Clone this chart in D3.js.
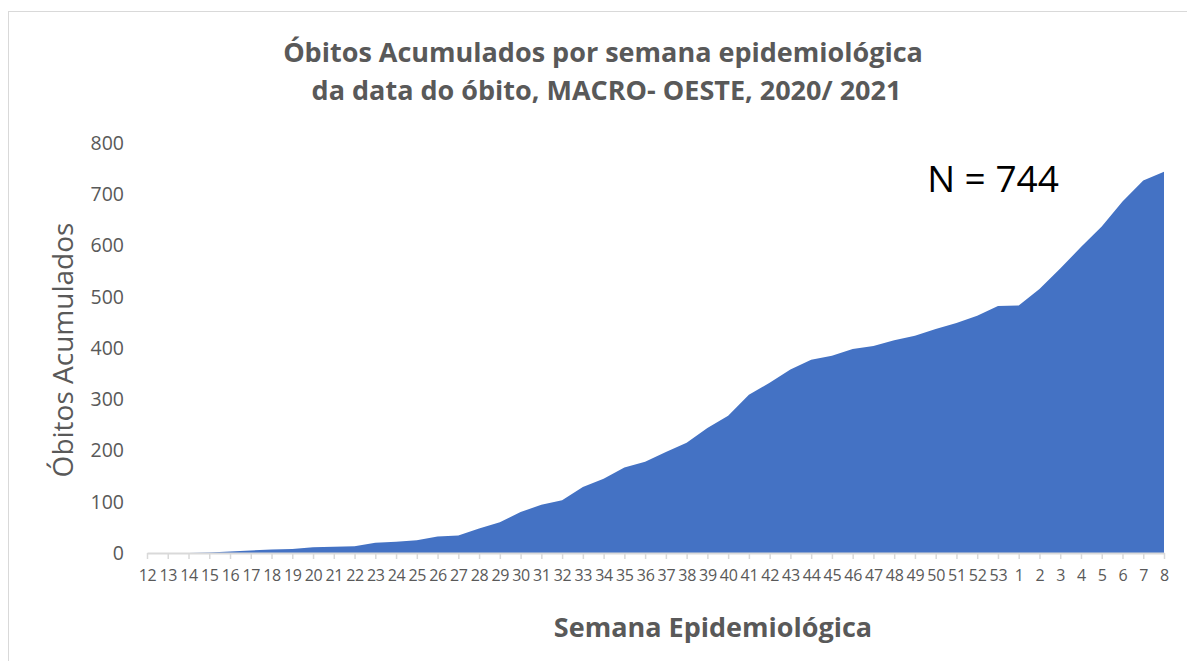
<!DOCTYPE html>
<html>
<head>
<meta charset="utf-8">
<script src="https://cdn.jsdelivr.net/npm/d3@7"></script>
<style>
  body { margin: 0; background: #fff; }
  svg { display: block; }
  text { font-family: "Open Sans", "Noto Sans", sans-serif; }
</style>
</head>
<body>
<svg id="chart" width="1187" height="661"></svg>
<script>
// semanas epidemiologicas (2020: 12..53, 2021: 1..8)
const semanas = ["12","13","14","15","16","17","18","19","20","21","22","23","24","25","26","27",
  "28","29","30","31","32","33","34","35","36","37","38","39","40","41","42","43","44","45",
  "46","47","48","49","50","51","52","53","1","2","3","4","5","6","7","8"];

const obitosAcumulados = [0, 0, 0, 1, 3, 5, 7, 8, 11, 12, 13, 20, 22, 25, 32, 34,
  48, 60, 80, 94, 103, 129, 145, 167, 178, 197, 215, 244, 268, 309, 332, 358, 377, 385,
  398, 404, 415, 424, 437, 449, 463, 482, 483, 515, 555, 597, 637, 686, 727, 744];

const yTicks = [0, 100, 200, 300, 400, 500, 600, 700, 800];

const titleLines = ["Óbitos Acumulados por semana epidemiológica", " da data do óbito, MACRO- OESTE, 2020/ 2021"];
const totalLabel = "N = 744";

const grey = "#595959";
const svg = d3.select("#chart");

// frame of the chart area (runs off the right and bottom of the picture)
svg.append("rect")
  .attr("x", 8.5).attr("y", 11.5)
  .attr("width", 1300).attr("height", 800)
  .attr("fill", "none")
  .attr("stroke", "#d9d9d9");

const x = d3.scalePoint()
  .domain(d3.range(semanas.length))
  .range([147, 1164]);

const y = d3.scaleLinear()
  .domain([0, 800])
  .range([553, 143]);

const area = d3.area()
  .x((d, i) => x(i))
  .y0(y(0))
  .y1(d => y(d));

svg.append("path")
  .datum(obitosAcumulados)
  .attr("d", area)
  .attr("fill", "#4472c4");

// x axis
const xAxis = svg.append("g")
  .attr("transform", `translate(0,${y(0)})`)
  .call(d3.axisBottom(x).tickSize(6).tickSizeOuter(0).tickFormat(i => semanas[i]));

xAxis.select(".domain").attr("stroke", "#d9d9d9").attr("stroke-width", 2);
xAxis.selectAll(".tick line").attr("stroke", "#d9d9d9").attr("stroke-width", 1.5);
xAxis.selectAll(".tick text")
  .attr("y", 17)
  .attr("fill", grey)
  .style("font-size", "16px")
  .style("letter-spacing", "-0.3px");

// y axis (labels only)
const yAxis = svg.append("g")
  .attr("transform", "translate(124,0)")
  .call(d3.axisLeft(y).tickValues(yTicks).tickSize(0).tickPadding(0));

yAxis.select(".domain").remove();
yAxis.selectAll(".tick text")
  .attr("fill", grey)
  .style("font-size", "19.5px");

// titles
svg.append("g").selectAll("text")
  .data(titleLines)
  .join("text")
  .attr("x", 603)
  .attr("y", (d, i) => 62 + i * 38)
  .attr("text-anchor", "middle")
  .attr("fill", grey)
  .attr("font-weight", "bold")
  .style("font-size", "27px")
  .style("white-space", "pre")
  .text(d => d);

svg.append("text")
  .attr("transform", "translate(73,350) rotate(-90)")
  .attr("text-anchor", "middle")
  .attr("fill", grey)
  .style("font-size", "28px")
  .text("Óbitos Acumulados");

svg.append("text")
  .attr("x", 713)
  .attr("y", 637)
  .attr("text-anchor", "middle")
  .attr("fill", grey)
  .attr("font-weight", "bold")
  .style("font-size", "27px")
  .text("Semana Epidemiológica");

svg.append("text")
  .attr("x", 993)
  .attr("y", 192)
  .attr("text-anchor", "middle")
  .attr("fill", "#000")
  .style("font-size", "37px")
  .text(totalLabel);
</script>
</body>
</html>
